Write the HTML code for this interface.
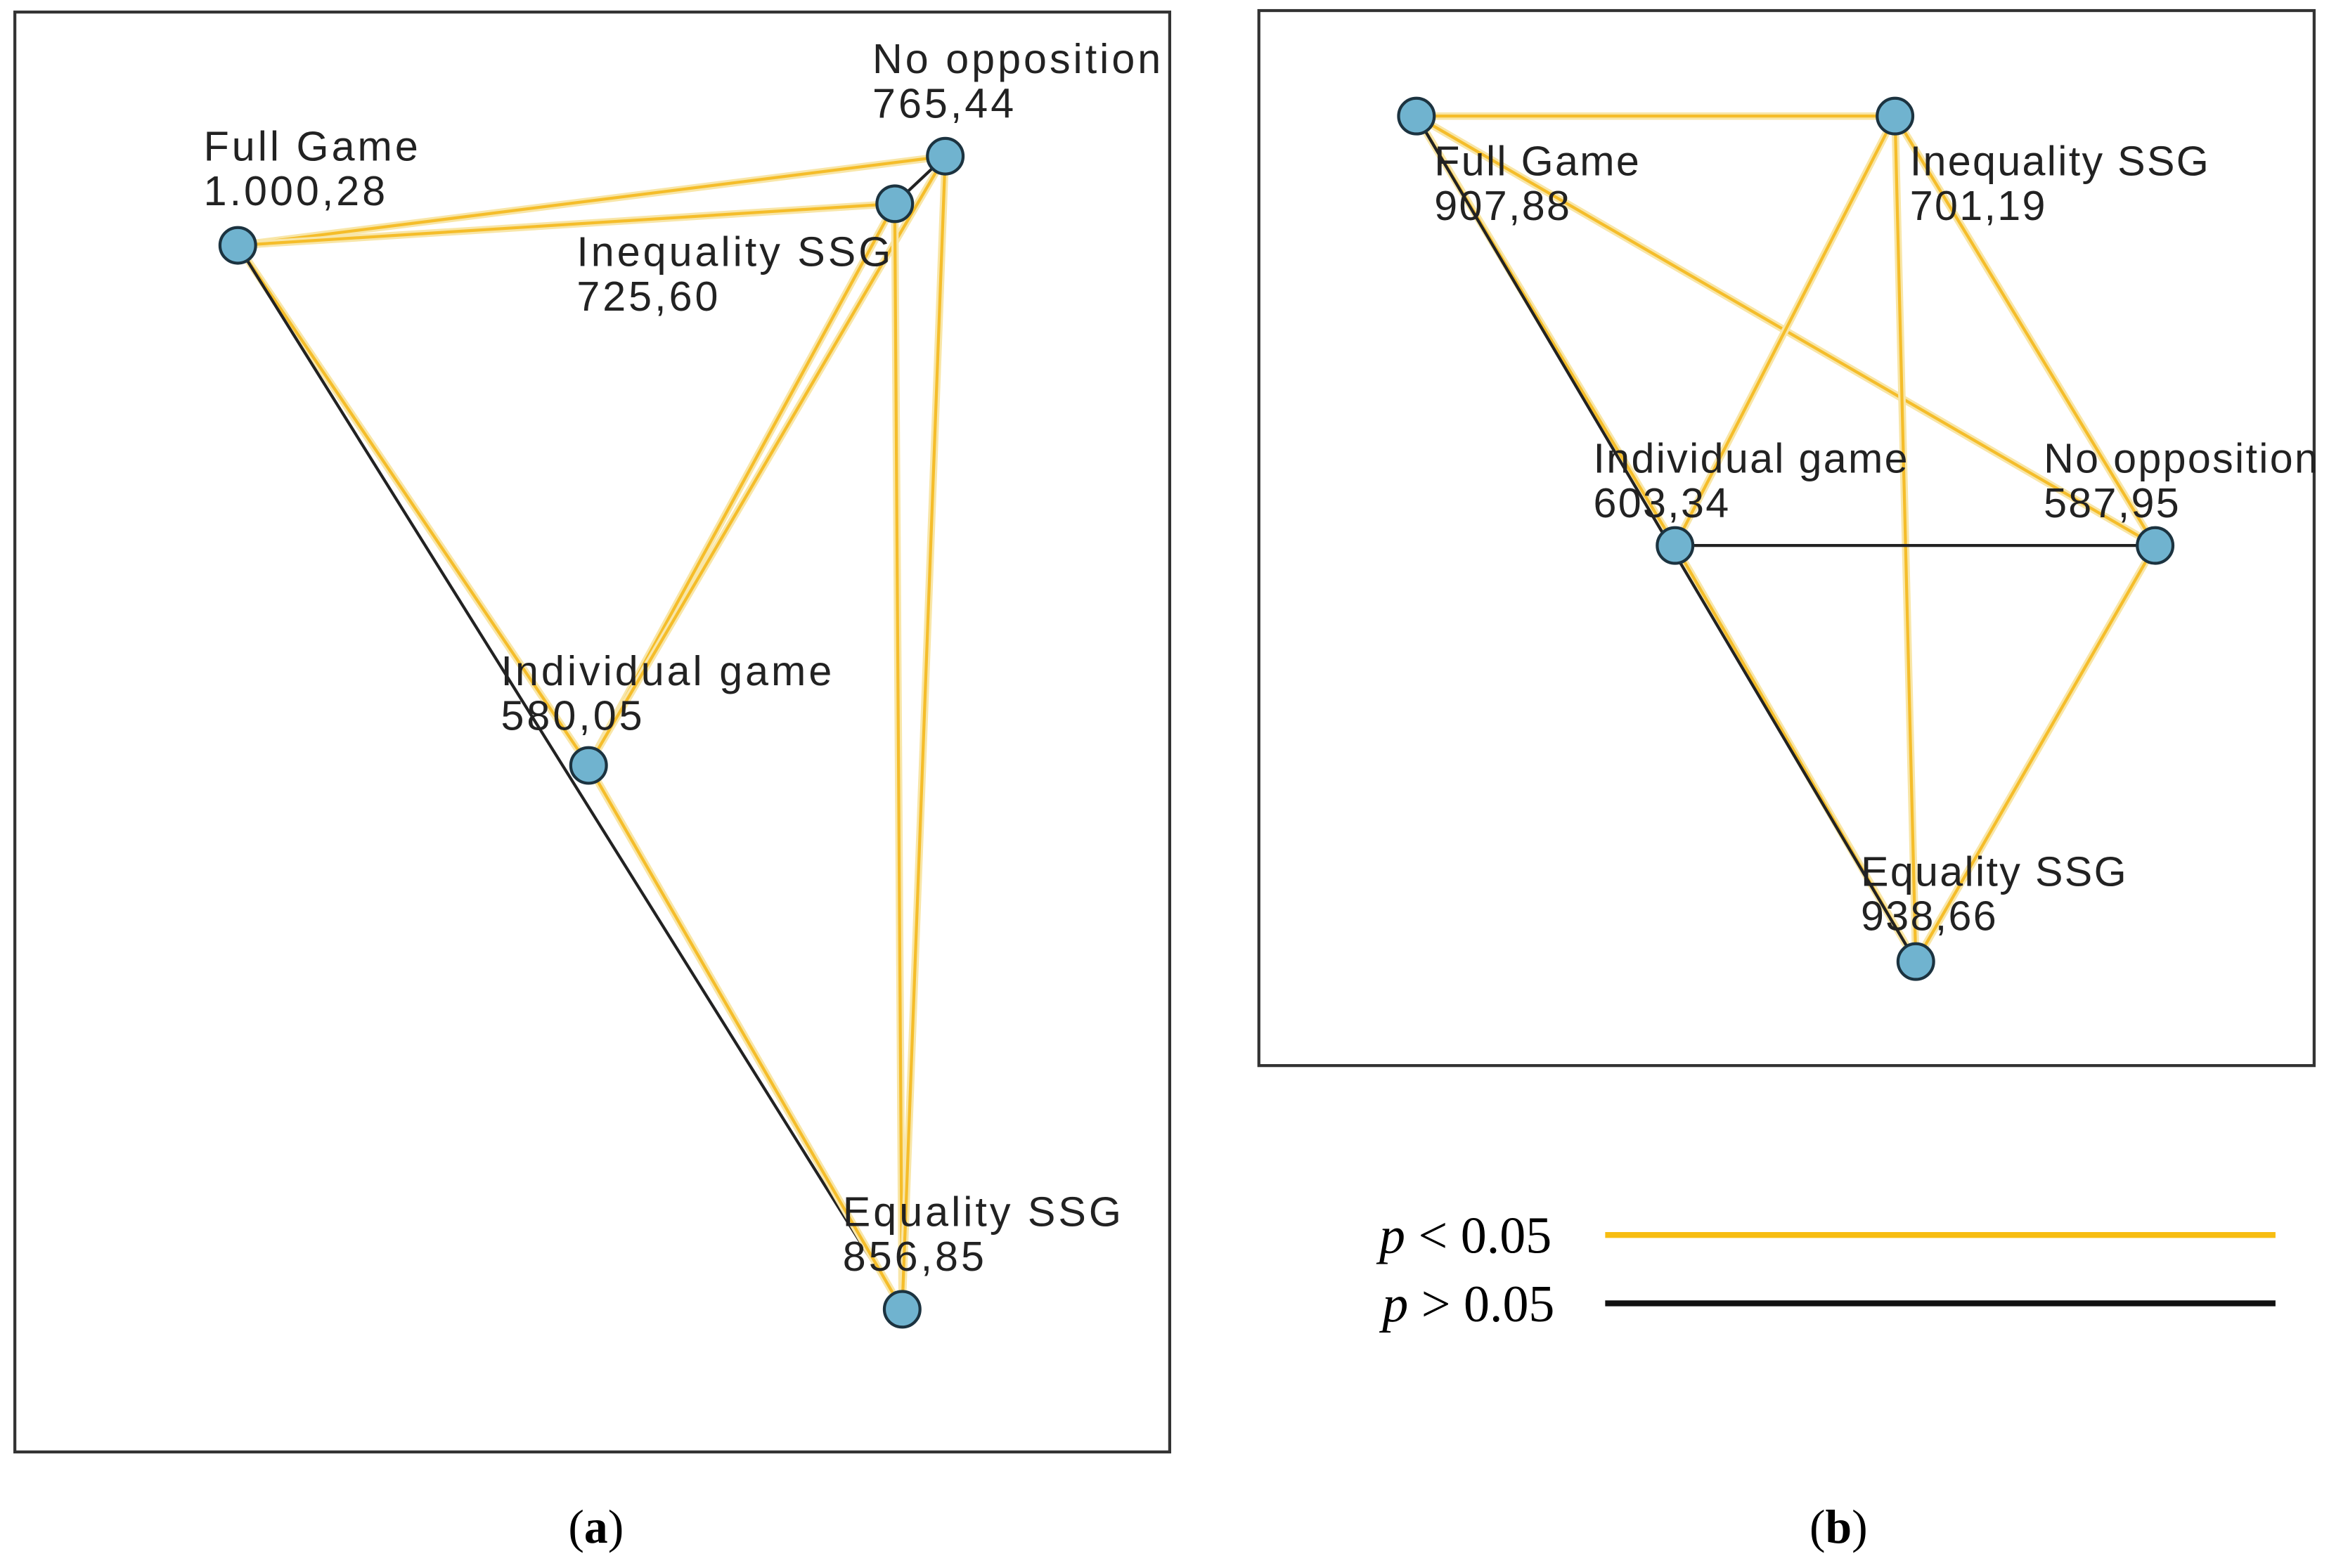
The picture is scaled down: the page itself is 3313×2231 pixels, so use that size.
<!DOCTYPE html>
<html><head><meta charset="utf-8"><style>
html,body{margin:0;padding:0;background:#fff;}
svg{display:block;}
.lbl{font-family:"Liberation Sans",sans-serif;font-size:28px;letter-spacing:1.9px;fill:#222;}
#gb .lbl{letter-spacing:1.1px;}
.cap{font-family:"Liberation Serif",serif;fill:#000;}
</style></head><body>
<svg id="chart" width="3313" height="2231" viewBox="0 0 1567 1055" xmlns="http://www.w3.org/2000/svg">
<rect x="10" y="8" width="777" height="969" fill="none" stroke="#333" stroke-width="2"/>
<rect x="847" y="7" width="710" height="710" fill="none" stroke="#333" stroke-width="2"/>
<g id="ga"></g>
<g id="gb"></g>
<g>
<text class="cap" x="928" y="843" style="font-size:35px"><tspan font-style="italic">p</tspan> &lt; 0.05</text>
<line x1="1080" y1="831" x2="1531" y2="831" stroke="#f7bd12" stroke-width="4"/>
<text class="cap" x="930" y="889" style="font-size:35px"><tspan font-style="italic">p</tspan> &gt; 0.05</text>
<line x1="1080" y1="877" x2="1531" y2="877" stroke="#111" stroke-width="4"/>
</g>
<text class="cap" x="401" y="1038" text-anchor="middle" style="font-size:32px">(<tspan font-weight="bold">a</tspan>)</text>
<text class="cap" x="1237" y="1038" text-anchor="middle" style="font-size:32px">(<tspan font-weight="bold">b</tspan>)</text>
</svg>
<script>
// Panel A data
const aNames = ["Full Game","No opposition","Inequality SSG","Individual game","Equality SSG"];
const aValues = ["1.000,28","765,44","725,60","580,05","856,85"];
const aNodeX = [160,636,602,396,607];
const aNodeY = [165,105,137,515,881];
const aLabelDX = [-23,-49,-214,-59,-40];
const aLabelDY = [-57,-56,42,-54,-56];
const aEdgeFrom = [0,0,1,0,0,2,1,2,1,3];
const aEdgeTo   = [1,2,2,3,4,3,3,4,4,4];
const aEdgeSig  = [1,1,0,1,0,1,1,1,1,1];
// Panel B data
const bNames = ["Full Game","Inequality SSG","Individual game","No opposition","Equality SSG"];
const bValues = ["907,88","701,19","603,34","587,95","938,66"];
const bNodeX = [953,1275,1127,1450,1289];
const bNodeY = [78,78,367,367,647];
const bLabelDX = [12,10,-55,-75,-37];
const bLabelDY = [40,40,-49,-49,-51];
const bEdgeFrom = [0,0,2,0,1,1,1,2,3];
const bEdgeTo   = [1,2,4,3,2,4,3,3,4];
const bEdgeSig  = [1,1,1,1,1,1,1,0,1];
const bBlackFrom = [0];
const bBlackTo = [4];

const NS="http://www.w3.org/2000/svg";
function mk(tag,attrs,parent){const e=document.createElementNS(NS,tag);for(const k in attrs)e.setAttribute(k,attrs[k]);parent.appendChild(e);return e;}
function draw(g,names,values,xs,ys,ldx,ldy,ef,et,es,prefix,bf,bt){
  for(let i=0;i<ef.length;i++){
    const a=ef[i],b=et[i];
    if(es[i]){
      const glow=mk("line",{x1:xs[a],y1:ys[a],x2:xs[b],y2:ys[b],stroke:"#f8e6a8","stroke-width":5},g);
      
      
    }
    const l=mk("line",{x1:xs[a],y1:ys[a],x2:xs[b],y2:ys[b],stroke:es[i]?"#f5bd2a":"#222","stroke-width":2},g);
    
    
  }
  for(let i=0;i<bf.length;i++){
    const a=bf[i],b=bt[i];
    const l=mk("line",{x1:xs[a],y1:ys[a],x2:xs[b],y2:ys[b],stroke:"#222","stroke-width":2},g);
    
    
  }
  for(let i=0;i<names.length;i++){
    const c=mk("circle",{cx:xs[i],cy:ys[i],r:12,fill:"#70b3cf",stroke:"#1c3340","stroke-width":2},g);
    
    
    const t=mk("text",{class:"lbl",x:xs[i]+ldx[i],y:ys[i]+ldy[i]},g);
    t.textContent=names[i];
    
    
    const v=mk("text",{class:"lbl",x:xs[i]+ldx[i],y:ys[i]+ldy[i]+30},g);
    v.textContent=values[i];
    
    
  }
}
draw(document.getElementById("ga"),aNames,aValues,aNodeX,aNodeY,aLabelDX,aLabelDY,aEdgeFrom,aEdgeTo,aEdgeSig,"a",[],[]);
draw(document.getElementById("gb"),bNames,bValues,bNodeX,bNodeY,bLabelDX,bLabelDY,bEdgeFrom,bEdgeTo,bEdgeSig,"b",bBlackFrom,bBlackTo);
</script>
</body></html>
